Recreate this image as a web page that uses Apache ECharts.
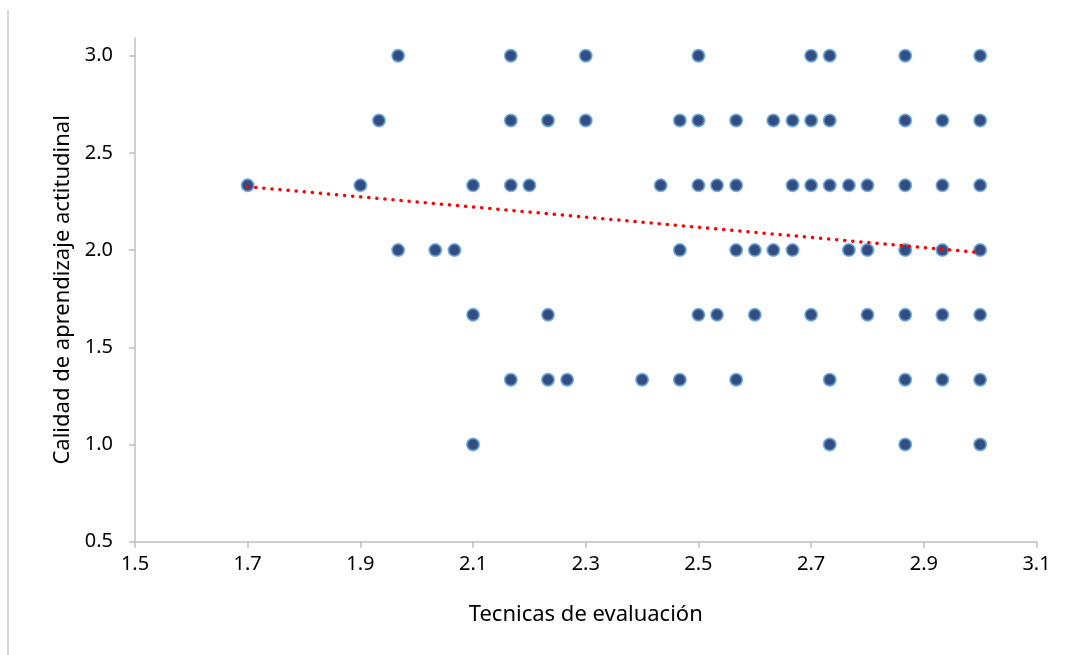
<!DOCTYPE html>
<html>
<head>
<meta charset="utf-8">
<script src="https://cdn.jsdelivr.net/npm/echarts@6/dist/echarts.min.js"></script>
<style>
    html, body { margin: 0; padding: 0; background: #fff; }
    #chart { width: 1071px; height: 655px; }
</style>
</head>
<body>
<div id="chart"></div>
<script>
// x values (Tecnicas de evaluación) for each level of the y variable
const row300 = [1.967, 2.167, 2.3, 2.5, 2.7, 2.733, 2.867, 3.0];
const row267 = [1.933, 2.167, 2.233, 2.3, 2.467, 2.5, 2.567, 2.633, 2.667, 2.7, 2.733, 2.867, 2.933, 3.0];
const row233 = [1.7, 1.9, 2.1, 2.167, 2.2, 2.433, 2.5, 2.533, 2.567, 2.667, 2.7, 2.733, 2.767, 2.8, 2.867, 2.933, 3.0];
const row200 = [1.967, 2.033, 2.067, 2.467, 2.567, 2.6, 2.633, 2.667, 2.767, 2.8, 2.867, 2.933, 3.0];
const row167 = [2.1, 2.233, 2.5, 2.533, 2.6, 2.7, 2.8, 2.867, 2.933, 3.0];
const row133 = [2.167, 2.233, 2.267, 2.4, 2.467, 2.567, 2.733, 2.867, 2.933, 3.0];
const row100 = [2.1, 2.733, 2.867, 3.0];

const yLevels = [3.0, 2.667, 2.333, 2.0, 1.667, 1.333, 1.0];
const xRows = [row300, row267, row233, row200, row167, row133, row100];

// linear trend line end points
const trendX = [1.7, 3.0];
const trendY = [2.326, 1.987];

const xTicks = [1.5, 1.7, 1.9, 2.1, 2.3, 2.5, 2.7, 2.9, 3.1];
const yTicks = [0.5, 1.0, 1.5, 2.0, 2.5, 3.0];

let points = [];
xRows.forEach((row, i) => {
    row.forEach(x => points.push([x, yLevels[i]]));
});

const font = '"Noto Sans", "Open Sans", sans-serif';
const axisColor = '#bfbfbf';

let chart = echarts.init(document.getElementById('chart'));

let option = {
    backgroundColor: '#fff',
    animation: false,
    graphic: [{
        type: 'rect',
        left: 7,
        top: 10,
        shape: { width: 2, height: 645 },
        style: { fill: '#d9d9d9' }
    }],
    grid: {
        left: 135,
        right: 34.5,
        top: 38,
        bottom: 113.3
    },
    xAxis: {
        type: 'value',
        min: 1.5,
        max: 3.1,
        interval: 0.2,
        name: 'Tecnicas de evaluación',
        nameLocation: 'middle',
        nameGap: 62,
        nameTextStyle: { fontFamily: font, fontSize: 22, color: '#000' },
        splitLine: { show: false },
        axisLine: { show: true, lineStyle: { color: axisColor, width: 1.5 } },
        axisTick: { show: true, length: 6, customValues: xTicks, lineStyle: { color: axisColor, width: 1.5 } },
        axisLabel: {
            customValues: xTicks,
            margin: 13,
            fontFamily: font,
            fontSize: 20,
            color: '#000',
            formatter: v => v.toFixed(1)
        }
    },
    yAxis: {
        type: 'value',
        min: 0.5,
        max: 3.091,
        name: 'Calidad de aprendizaje actitudinal',
        nameLocation: 'middle',
        nameRotate: 90,
        nameGap: 60,
        nameTextStyle: { fontFamily: font, fontSize: 22, color: '#000' },
        splitLine: { show: false },
        axisLine: { show: true, lineStyle: { color: axisColor, width: 1.5 } },
        axisTick: { show: true, length: 6, customValues: yTicks, lineStyle: { color: axisColor, width: 1.5 } },
        axisLabel: {
            customValues: yTicks,
            margin: 22,
            fontFamily: font,
            fontSize: 20,
            color: '#000',
            formatter: v => v.toFixed(1)
        }
    },
    series: [
        {
            type: 'scatter',
            data: points,
            symbol: 'circle',
            symbolSize: 12,
            itemStyle: {
                color: '#002060',
                borderColor: '#5b9bd5',
                borderWidth: 2
            },
            z: 2
        },
        {
            type: 'line',
            data: trendX.map((x, i) => [x, trendY[i]]),
            symbol: 'none',
            lineStyle: {
                color: '#ff0000',
                width: 3.5,
                type: [0.1, 8],
                cap: 'round'
            },
            z: 3
        }
    ]
};

chart.setOption(option);
</script>
</body>
</html>
